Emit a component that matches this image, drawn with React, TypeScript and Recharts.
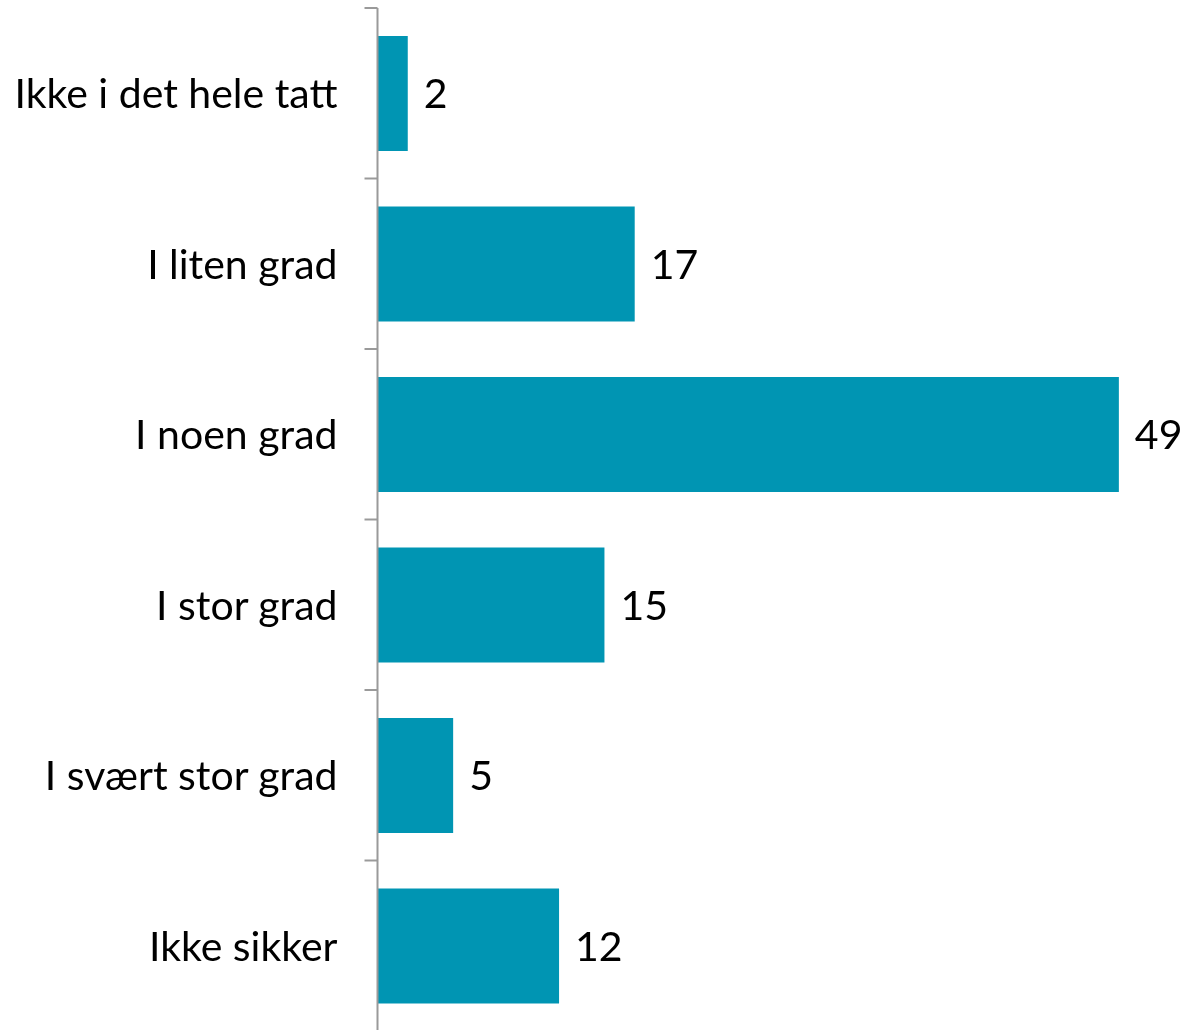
import React from "react";
import { BarChart, Bar, XAxis, YAxis, LabelList } from "recharts";

const categories = [
  "Ikke i det hele tatt",
  "I liten grad",
  "I noen grad",
  "I stor grad",
  "I svært stor grad",
  "Ikke sikker",
];
const values = [2, 17, 49, 15, 5, 12];

const data = categories.map((name, i) => ({ name, value: values[i] }));

const CHART_W = 1179;
const CHART_H = 1023;
const MARGIN = { top: 0, right: 53, left: 0, bottom: 0 };
const FONT = "Lato, 'Open Sans', sans-serif";
const BAR_COLOR = "#0095b3";
const AXIS_COLOR = "#9a9a9a";

const band = (CHART_H - MARGIN.top - MARGIN.bottom) / categories.length;

const CategoryTick = (props: any) => {
  const { x, y, payload, index } = props;
  return (
    <g>
      <line x1={x - 13} x2={x} y1={y - band / 2} y2={y - band / 2} stroke={AXIS_COLOR} strokeWidth={2} />
      {index === categories.length - 1 && (
        <line x1={x - 13} x2={x} y1={y + band / 2} y2={y + band / 2} stroke={AXIS_COLOR} strokeWidth={2} />
      )}
      <text x={x - 40} y={y} dy="0.36em" textAnchor="end" fill="#000" fontSize={41} fontFamily={FONT}>
        {payload.value}
      </text>
    </g>
  );
};

export default function App() {
  return (
    <div style={{ position: "fixed", left: 8, top: 8 }}>
      <style>{`html, body { overflow: hidden; } .recharts-surface { overflow: visible; }`}</style>
      <BarChart
        width={CHART_W}
        height={CHART_H}
        data={data}
        layout="vertical"
        margin={MARGIN}
        barCategoryGap={28}
      >
        <XAxis type="number" domain={[0, 50]} hide />
        <YAxis
          type="category"
          dataKey="name"
          width={369.5}
          axisLine={{ stroke: AXIS_COLOR, strokeWidth: 2 }}
          tickLine={false}
          tickSize={0}
          tickMargin={0}
          interval={0}
          tick={<CategoryTick />}
        />
        <Bar dataKey="value" fill={BAR_COLOR} isAnimationActive={false}>
          <LabelList
            dataKey="value"
            position="right"
            offset={16}
            fill="#000"
            fontSize={41}
            fontFamily={FONT}
          />
        </Bar>
      </BarChart>
    </div>
  );
}
